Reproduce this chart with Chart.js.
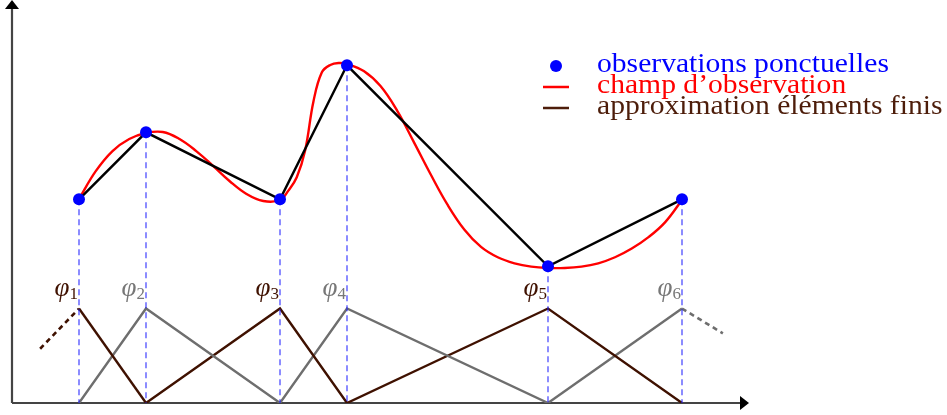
<!DOCTYPE html>
<html>
<head>
<meta charset="utf-8">
<script src="https://cdn.jsdelivr.net/npm/chart.js@4/dist/chart.umd.min.js"></script>
<style>
html,body{margin:0;padding:0;background:#fff;}
#wrap{width:947px;height:415px;position:relative;}
</style>
</head>
<body>
<div id="wrap"><canvas id="c"></canvas></div>
<script>
// ---- data ----
const nodes = [1, 2, 4, 5, 8, 10];
const obsValues = [3.04, 4.04, 3.04, 5.04, 2.04, 3.04];
const hatPeak = 1.41;
const phiLabels = ['φ1','φ2','φ3','φ4','φ5','φ6'];
const legendLabels = ['observations ponctuelles', 'champ d’observation', 'approximation éléments finis'];
const fieldX = [1.00,1.25,1.50,1.75,2.00,2.25,2.50,2.75,3.00,3.25,3.50,3.75,4.00,4.125,4.25,4.375,4.50,4.625,4.75,4.875,5.00,5.25,5.50,5.75,6.00,6.25,6.50,6.75,7.00,7.25,7.50,7.75,8.00,8.25,8.50,8.75,9.00,9.25,9.50,9.75,10.00];
const fieldY = [3.045,3.46,3.76,3.94,4.03,4.045,3.94,3.76,3.54,3.31,3.12,3.015,3.03,3.17,3.37,3.77,4.505,4.935,5.045,5.075,5.06,4.955,4.73,4.36,3.89,3.41,2.96,2.59,2.33,2.175,2.085,2.035,2.015,2.015,2.035,2.085,2.175,2.305,2.475,2.70,3.03];
const leftDashX = [0.42, 1];
const leftDashY = [0.81, 1.41];
const rightDashX = [10, 10.61];
const rightDashY = [1.41, 1.04];

const BLUE = '#0000ff', RED = '#ff0000', BROWN = '#3f1100', GREY = '#6e6e6e', LEGBROWN = '#4d1d0a';

function pts(xs, ys){ return xs.map((x,i)=>({x:x, y:ys[i]})); }
function hat(i){
  const p = [];
  if (i > 0) p.push({x:nodes[i-1], y:0});
  p.push({x:nodes[i], y:hatPeak});
  if (i < nodes.length-1) p.push({x:nodes[i+1], y:0});
  return p;
}

const datasets = [];
datasets.push({label:'obs', data:pts(nodes, obsValues), showLine:false, pointRadius:6, pointBackgroundColor:BLUE, pointBorderWidth:0, pointBorderColor:BLUE});
datasets.push({label:'fe', data:pts(nodes, obsValues), showLine:true, borderColor:'#000', borderWidth:2.4, pointRadius:0, tension:0});
datasets.push({label:'field', data:pts(fieldX, fieldY), showLine:true, borderColor:RED, borderWidth:2.4, pointRadius:0, tension:0.4});
nodes.forEach((n,i)=>{
  datasets.push({label:'v'+i, data:[{x:n,y:obsValues[i]},{x:n,y:0}], showLine:true, borderColor:'rgba(30,30,255,0.85)', borderWidth:1.2, borderDash:[6,4], pointRadius:0});
});
nodes.forEach((n,i)=>{
  datasets.push({label:'h'+i, data:hat(i), showLine:true, borderColor:(i%2===0?BROWN:GREY), borderWidth:2.4, pointRadius:0, tension:0});
});
datasets.push({label:'hl', data:pts(leftDashX, leftDashY), showLine:true, borderColor:BROWN, borderWidth:2.6, borderDash:[5,4], pointRadius:0});
datasets.push({label:'hr', data:pts(rightDashX, rightDashY), showLine:true, borderColor:GREY, borderWidth:2.6, borderDash:[5,4], pointRadius:0});

const axesPlugin = {
  id:'axes',
  beforeDatasetsDraw(chart){
    const ctx = chart.ctx, xs = chart.scales.x, ys = chart.scales.y;
    const x0 = xs.getPixelForValue(0), y0 = ys.getPixelForValue(0);
    const xEnd = xs.getPixelForValue(11), yEnd = ys.getPixelForValue(6);
    ctx.save();
    ctx.strokeStyle = '#444'; ctx.lineWidth = 2.2;
    ctx.beginPath(); ctx.moveTo(x0, y0); ctx.lineTo(xEnd-6, y0); ctx.stroke();
    ctx.beginPath(); ctx.moveTo(x0, y0); ctx.lineTo(x0, yEnd+6); ctx.stroke();
    ctx.fillStyle = '#000';
    ctx.beginPath(); ctx.moveTo(xEnd, y0); ctx.lineTo(xEnd-9, y0-7); ctx.lineTo(xEnd-9, y0+7); ctx.closePath(); ctx.fill();
    ctx.beginPath(); ctx.moveTo(x0, yEnd-1); ctx.lineTo(x0-7, yEnd+8); ctx.lineTo(x0+7, yEnd+8); ctx.closePath(); ctx.fill();
    ctx.restore();
  },
  afterDatasetsDraw(chart){
    const ctx = chart.ctx, xs = chart.scales.x, ys = chart.scales.y;
    ctx.save();
    // phi labels
    nodes.forEach((n,i)=>{
      const xr = xs.getPixelForValue(n) - 1;
      const yb = ys.getPixelForValue(hatPeak) - 10;
      ctx.fillStyle = (i%2===0 ? BROWN : '#777');
      ctx.textBaseline = 'alphabetic';
      ctx.textAlign = 'right';
      const sub = phiLabels[i].slice(1);
      ctx.font = '17px "Liberation Serif"';
      const sw = ctx.measureText(sub).width;
      ctx.fillText(sub, xr, yb);
      ctx.font = 'italic 27px "Liberation Serif"';
      ctx.fillText(phiLabels[i][0], xr - sw, yb - 3);
    });
    // legend
    const lx = 597, ly = [72, 93, 114];
    const colors = [BLUE, RED, LEGBROWN];
    ctx.font = '27px "Liberation Serif"';
    ctx.textAlign = 'left';
    const w0 = ctx.measureText(legendLabels[0]).width;
    const sx = 292 / w0;
    legendLabels.forEach((t,i)=>{
      ctx.save();
      ctx.translate(lx, ly[i]);
      ctx.scale(sx, 1);
      ctx.fillStyle = colors[i];
      ctx.fillText(t, 0, 0);
      ctx.restore();
    });
    ctx.fillStyle = BLUE;
    ctx.beginPath(); ctx.arc(556, 66, 6, 0, Math.PI*2); ctx.fill();
    ctx.lineWidth = 2.5;
    ctx.strokeStyle = RED; ctx.beginPath(); ctx.moveTo(543, 87); ctx.lineTo(569, 87); ctx.stroke();
    ctx.strokeStyle = LEGBROWN; ctx.beginPath(); ctx.moveTo(543, 108); ctx.lineTo(569, 108); ctx.stroke();
    ctx.restore();
  }
};

new Chart(document.getElementById('c'), {
  type:'scatter',
  data:{datasets:datasets},
  options:{
    responsive:true, maintainAspectRatio:false, animation:false,
    layout:{autoPadding:false, padding:{left:12, right:198, top:1, bottom:12}},
    plugins:{legend:{display:false}, tooltip:{enabled:false}},
    elements:{line:{fill:false}},
    scales:{
      x:{type:'linear', min:0, max:11, display:false},
      y:{type:'linear', min:0, max:6, display:false}
    }
  },
  plugins:[axesPlugin]
});
</script>
</body>
</html>
